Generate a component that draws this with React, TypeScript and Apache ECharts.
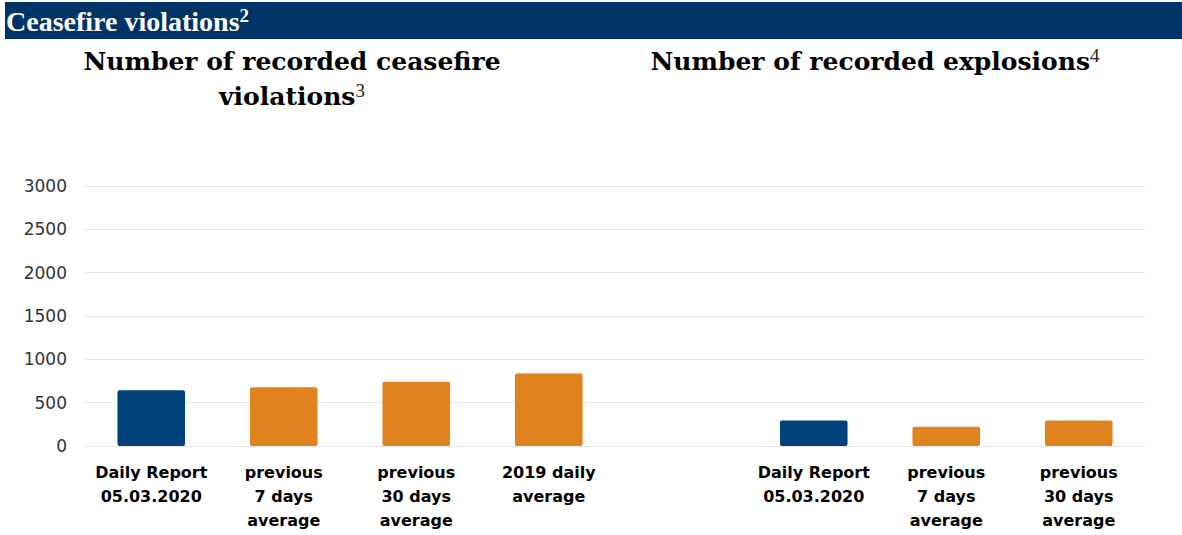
import React, { useEffect, useRef } from "react";
import * as echarts from "echarts";

const categories = [
  "Daily Report\n05.03.2020",
  "previous\n7 days\naverage",
  "previous\n30 days\naverage",
  "2019 daily\naverage",
  "",
  "Daily Report\n05.03.2020",
  "previous\n7 days\naverage",
  "previous\n30 days\naverage",
];
const values: (number | null)[] = [644, 679, 740, 836, null, 295, 222, 295];
const barColors = ["#00437a", "#e0821e", "#e0821e", "#e0821e", "#e0821e", "#00437a", "#e0821e", "#e0821e"];
const yTicks = { min: 0, max: 3000, interval: 500 };

export default function App() {
  const ref = useRef<HTMLDivElement>(null);
  useEffect(() => {
    document.body.style.margin = "0";
    const chart = echarts.init(ref.current!, null, { renderer: "svg" });
    const supStyle = { fontSize: 19, fontWeight: "normal", fontFamily: "Liberation Serif", color: "#222", padding: [0, 0, 12, 0] };
    const titleStyle = {
      fontFamily: "DejaVu Serif",
      fontWeight: "bold",
      fontSize: 25,
      lineHeight: 35,
      color: "#000",
      rich: { sup: supStyle },
    };
    chart.setOption({
      animation: false,
      backgroundColor: "#ffffff",
      title: [
        {
          text: "Number of recorded ceasefire\nviolations{sup|3}",
          left: 287,
          top: 39,
          textAlign: "center",
          textStyle: titleStyle,
        },
        {
          text: "Number of recorded explosions{sup|4}",
          left: 870,
          top: 39,
          textAlign: "center",
          textStyle: titleStyle,
        },
      ],
      graphic: [
        { type: "rect", shape: { x: 5, y: 2, width: 1177, height: 37 }, style: { fill: "#003366" }, silent: true },
        {
          type: "text",
          x: 6,
          y: 21,
          style: {
            text: "Ceasefire violations{s|2}",
            fill: "#ffffff",
            font: "bold 28px 'Liberation Serif'",
            verticalAlign: "middle",
            rich: {
              s: { fontSize: 19, fontWeight: "bold", fontFamily: "Liberation Serif", fill: "#ffffff", padding: [0, 0, 12, 0] },
            },
          },
        },
      ],
      grid: { left: 85, right: 37, top: 186, bottom: 89, containLabel: false },
      xAxis: {
        type: "category",
        data: categories,
        axisLine: { show: false },
        axisTick: { show: false },
        axisLabel: {
          interval: 0,
          margin: 14,
          fontFamily: "DejaVu Sans",
          fontWeight: "bold",
          fontSize: 16,
          lineHeight: 24,
          color: "#000",
        },
      },
      yAxis: {
        type: "value",
        min: yTicks.min,
        max: yTicks.max,
        interval: yTicks.interval,
        axisLine: { show: false },
        axisTick: { show: false },
        axisLabel: {
          fontFamily: "DejaVu Sans",
          fontSize: 17,
          color: "#333",
          margin: 18,
          formatter: (v: number) => String(v),
        },
        splitLine: { lineStyle: { color: "#e6e6e6", width: 1 } },
      },
      series: [
        {
          type: "bar",
          barWidth: "51%",
          data: values.map((v, i) => ({
            value: v === null ? "-" : v,
            itemStyle: { color: barColors[i], borderRadius: 2 },
          })),
        },
      ],
    });
    return () => chart.dispose();
  }, []);
  return <div ref={ref} style={{ width: 1182, height: 535 }} />;
}
